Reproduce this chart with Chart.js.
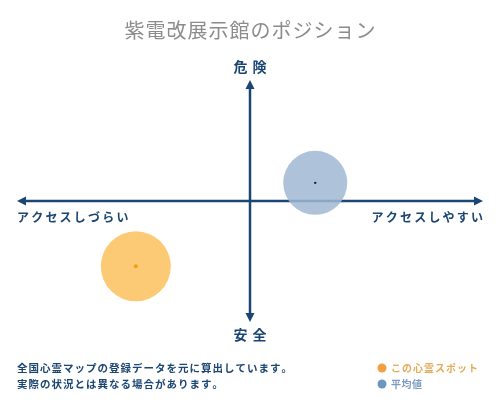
<!DOCTYPE html>
<html><head><meta charset="utf-8">
<script src="https://cdn.jsdelivr.net/npm/chart.js@4"></script>
<style>html,body{margin:0;padding:0;background:#fff}#wrap{width:500px;height:400px;position:relative}</style>
</head><body><div id="wrap"><canvas id="c" width="500" height="400"></canvas></div>
<script>
const title = "紫電改展示館のポジション";
const axisLabels = { top: "危険", bottom: "安全", left: "アクセスしづらい", right: "アクセスしやすい" };
const seriesNames = ["この心霊スポット", "平均値"];
const spotX = [-0.49];
const spotY = [-0.54];
const spotR = [35];
const avgX = [0.28];
const avgY = [0.15];
const avgR = [32];
const notes = ["全国心霊マップの登録データを元に算出しています。", "実際の状況とは異なる場合があります。"];

const NAVY = "#1b4572";
const JP = '"Noto Sans CJK JP", sans-serif';

function spaced(ctx, text, x, y, sp, align) {
  let w = 0; const ws = [];
  for (const ch of text) { const cw = ctx.measureText(ch).width; ws.push(cw); w += cw + sp; }
  w -= sp;
  let sx = align === 'center' ? x - w/2 : align === 'right' ? x - w : x;
  let i = 0;
  ctx.textAlign = 'left';
  for (const ch of text) { ctx.fillText(ch, sx, y); sx += ws[i++] + sp; }
}

const deco = {
  id: 'deco',
  beforeDatasetsDraw(chart) {
    const ctx = chart.ctx, xs = chart.scales.x, ys = chart.scales.y;
    const x0 = xs.getPixelForValue(0), y0 = ys.getPixelForValue(0);
    const L = xs.getPixelForValue(-1), R = xs.getPixelForValue(1);
    const T = ys.getPixelForValue(1), B = ys.getPixelForValue(-1);
    ctx.save();
    ctx.strokeStyle = NAVY; ctx.fillStyle = NAVY; ctx.lineWidth = 2.5;
    ctx.beginPath(); ctx.moveTo(L + 4, y0); ctx.lineTo(R - 4, y0); ctx.stroke();
    ctx.beginPath(); ctx.moveTo(x0, T + 4); ctx.lineTo(x0, B - 4); ctx.stroke();
    const a = 9, h = 4.5;
    ctx.beginPath(); ctx.moveTo(L, y0); ctx.lineTo(L + a, y0 - h); ctx.lineTo(L + a, y0 + h); ctx.closePath(); ctx.fill();
    ctx.beginPath(); ctx.moveTo(R, y0); ctx.lineTo(R - a, y0 - h); ctx.lineTo(R - a, y0 + h); ctx.closePath(); ctx.fill();
    ctx.beginPath(); ctx.moveTo(x0, T); ctx.lineTo(x0 - h, T + a); ctx.lineTo(x0 + h, T + a); ctx.closePath(); ctx.fill();
    ctx.beginPath(); ctx.moveTo(x0, B); ctx.lineTo(x0 - h, B - a); ctx.lineTo(x0 + h, B - a); ctx.closePath(); ctx.fill();
    ctx.textBaseline = 'middle';
    ctx.font = 'bold 14px ' + JP;
    spaced(ctx, axisLabels.top, x0, T - 13, 5, 'center');
    spaced(ctx, axisLabels.bottom, x0, B + 13, 5, 'center');
    ctx.font = 'bold 12px ' + JP;
    spaced(ctx, axisLabels.left, L, y0 + 16, 2.2, 'left');
    spaced(ctx, axisLabels.right, R, y0 + 16, 2.2, 'right');
    ctx.restore();
  },
  afterDraw(chart) {
    const ctx = chart.ctx;
    ctx.save();
    ctx.textBaseline = 'middle';
    ctx.font = '20px ' + JP; ctx.fillStyle = '#8c8c8c';
    spaced(ctx, title, 250, 30, 1, 'center');
    ctx.font = 'bold 10.5px ' + JP; ctx.fillStyle = NAVY;
    spaced(ctx, notes[0], 17, 368, 1.0, 'left');
    spaced(ctx, notes[1], 17, 384, 1.0, 'left');
    ctx.beginPath(); ctx.arc(382, 368, 4.5, 0, Math.PI*2); ctx.fillStyle = '#f0a040'; ctx.fill();
    ctx.beginPath(); ctx.arc(382, 384, 4.5, 0, Math.PI*2); ctx.fillStyle = '#6e95bd'; ctx.fill();
    ctx.font = 'bold 10px ' + JP;
    ctx.fillStyle = '#e3ac5a'; spaced(ctx, seriesNames[0], 391, 368, 1, 'left');
    ctx.fillStyle = '#7d9cc0'; spaced(ctx, seriesNames[1], 391, 384, 0.5, 'left');
    ctx.restore();
  }
};

new Chart(document.getElementById('c'), {
  type: 'bubble',
  data: {
    datasets: [
      { label: seriesNames[0], order: 2, data: spotX.map((x,i)=>({x, y: spotY[i], r: spotR[i]})), backgroundColor: 'rgba(252,196,102,0.9)', borderWidth: 0 },
      { label: seriesNames[1], order: 2, data: avgX.map((x,i)=>({x, y: avgY[i], r: avgR[i]})), backgroundColor: 'rgba(160,184,210,0.85)', borderWidth: 0 },
      { label: 'c1', order: 1, data: spotX.map((x,i)=>({x, y: spotY[i], r: 2})), backgroundColor: '#f0a010', borderWidth: 0 },
      { label: 'c2', order: 1, data: avgX.map((x,i)=>({x, y: avgY[i], r: 1.2})), backgroundColor: '#142338', borderWidth: 0 }
    ]
  },
  options: {
    responsive: false, animation: false,
    layout: { autoPadding: false, padding: { left: 17, right: 17, top: 80, bottom: 78 } },
    plugins: { legend: { display: false }, tooltip: { enabled: false }, title: { display: false } },
    scales: {
      x: { min: -1, max: 1, display: false },
      y: { min: -1, max: 1, display: false }
    }
  },
  plugins: [deco]
});
</script></body></html>
